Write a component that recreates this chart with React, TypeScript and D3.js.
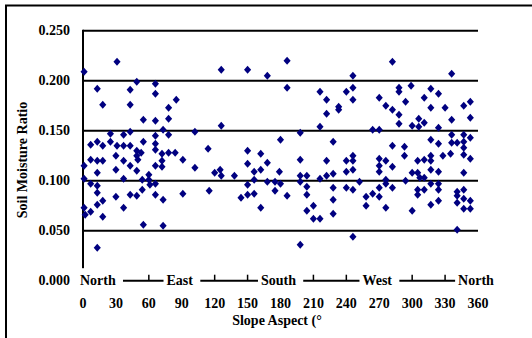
import { useEffect, useRef } from 'react';

import * as d3 from 'd3';

const width = 532;
const height = 338;
const [mt, mr, mb, ml] = [31, 54, 57, 83];
const font = "'Times New Roman', 'Liberation Serif', serif";

// slope aspect (degrees) for each sample
const aspectDeg = [
    1, 31, 13, 49, 66, 43, 66, 18, 43, 85, 78, 55, 66, 78, 73, 43, 78, 37, 25, 7,
    13, 18, 25, 31, 37, 43, 55, 66, 66, 49, 53, 66, 72, 78, 84, 7, 13, 18, 1, 30,
    37, 49, 50, 43, 30, 49, 66, 72, 72, 13, 1, 37, 54, 60, 60, 61, 7, 13, 66, 54,
    13, 43, 49, 66, 30, 73, 18, 13, 1, 2, 7, 37, 18, 55, 73, 13,
    126, 150, 168, 102, 126, 114, 91, 102, 120, 125, 126, 138, 150, 162, 150, 168, 156, 162, 179, 156,
    168, 175, 150, 91, 115, 144, 150, 156, 175, 162, 180, 180,
    186, 246, 186, 216, 240, 246, 222, 246, 270, 233, 233, 222, 216, 198, 228, 264, 270, 198, 222, 198,
    204, 198, 216, 222, 228, 204, 204, 186, 228, 240, 240, 246, 246, 246, 240, 246, 252, 228, 210, 204,
    210, 216, 228, 258, 258, 264, 198, 246,
    282, 336, 288, 288, 299, 317, 324, 276, 282, 294, 311, 317, 330, 347, 353, 288, 288, 300, 306, 306,
    311, 324, 336, 353, 347, 347, 317, 324, 336, 336, 341, 353, 282, 293, 293, 270, 276, 270, 282, 270,
    276, 276, 270, 282, 270, 294, 300, 305, 311, 317, 317, 317, 324, 305, 307, 311, 317, 324, 305, 305,
    311, 324, 324, 317, 328, 335, 347, 347, 353, 347, 341, 341, 347, 341, 347, 353, 347, 353, 276, 300,
    341
];

// soil moisture ratio, same order as aspectDeg
const moistureRatio = [
    0.209, 0.219, 0.192, 0.199, 0.197, 0.191, 0.187, 0.176, 0.176, 0.181, 0.173, 0.161, 0.16, 0.162, 0.151, 0.149, 0.146, 0.146, 0.147, 0.136,
    0.139, 0.135, 0.139, 0.135, 0.135, 0.135, 0.139, 0.145, 0.137, 0.13, 0.128, 0.131, 0.127, 0.128, 0.128, 0.121, 0.12, 0.12, 0.115, 0.125,
    0.12, 0.125, 0.121, 0.115, 0.111, 0.11, 0.115, 0.12, 0.114, 0.108, 0.102, 0.102, 0.101, 0.106, 0.101, 0.096, 0.097, 0.095, 0.097, 0.091,
    0.088, 0.086, 0.085, 0.086, 0.084, 0.081, 0.08, 0.076, 0.073, 0.066, 0.069, 0.073, 0.064, 0.056, 0.055, 0.033,
    0.211, 0.211, 0.205, 0.149, 0.155, 0.132, 0.121, 0.113, 0.108, 0.111, 0.105, 0.105, 0.13, 0.127, 0.117, 0.118, 0.109, 0.111, 0.109, 0.101,
    0.099, 0.099, 0.096, 0.087, 0.09, 0.083, 0.086, 0.087, 0.09, 0.073, 0.097, 0.141,
    0.22, 0.205, 0.193, 0.189, 0.189, 0.193, 0.181, 0.181, 0.183, 0.174, 0.171, 0.167, 0.154, 0.148, 0.139, 0.151, 0.151, 0.121, 0.12, 0.105,
    0.105, 0.099, 0.102, 0.105, 0.107, 0.094, 0.086, 0.085, 0.093, 0.12, 0.109, 0.125, 0.12, 0.111, 0.093, 0.091, 0.099, 0.081, 0.075, 0.07,
    0.062, 0.062, 0.067, 0.084, 0.075, 0.087, 0.036, 0.044,
    0.219, 0.207, 0.193, 0.189, 0.195, 0.192, 0.187, 0.175, 0.171, 0.179, 0.183, 0.173, 0.173, 0.175, 0.179, 0.166, 0.157, 0.155, 0.162, 0.154,
    0.158, 0.153, 0.161, 0.163, 0.146, 0.139, 0.141, 0.137, 0.146, 0.138, 0.138, 0.143, 0.135, 0.134, 0.125, 0.122, 0.12, 0.115, 0.114, 0.109,
    0.101, 0.097, 0.093, 0.093, 0.084, 0.1, 0.108, 0.12, 0.121, 0.125, 0.12, 0.111, 0.109, 0.108, 0.103, 0.103, 0.097, 0.097, 0.091, 0.086,
    0.091, 0.091, 0.08, 0.076, 0.125, 0.127, 0.133, 0.126, 0.122, 0.108, 0.089, 0.085, 0.091, 0.078, 0.082, 0.08, 0.072, 0.072, 0.073, 0.07,
    0.051
];

const yTicks = [0, 0.05, 0.1, 0.15, 0.2, 0.25];
const xTicks = [0, 30, 60, 90, 120, 150, 180, 210, 240, 270, 300, 330, 360];
const directionNames = ['North', 'East', 'South', 'West', 'North'];
const directionDeg = [0, 90, 180, 270, 360];

export default function App() {
    const svgRef = useRef<SVGSVGElement>(null);

    useEffect(() => {
        const svg = d3.select(svgRef.current);
        svg.selectAll('*').remove();

        const x = d3.scaleLinear().domain([0, 360]).range([ml, width - mr]);
        const y = d3.scaleLinear().domain([0, 0.25]).range([height - mb - 0.3, mt - 0.3]);
        const y0 = y(0);

        // outer chart border (runs off the right and bottom edges)
        svg.append('rect')
            .attr('x', 6).attr('y', 5.5)
            .attr('width', 600).attr('height', 400)
            .attr('fill', 'none').attr('stroke', '#000').attr('stroke-width', 2);

        // gridlines
        svg.append('g')
            .selectAll('line')
            .data(yTicks.filter((d) => d > 0))
            .join('line')
            .attr('x1', x(0)).attr('x2', x(360))
            .attr('y1', (d) => y(d)).attr('y2', (d) => y(d))
            .attr('stroke', '#000').attr('stroke-width', 2);

        // axes
        svg.append('line')
            .attr('x1', x(0)).attr('x2', x(0)).attr('y1', y(0.25) - 1).attr('y2', y0)
            .attr('stroke', '#000').attr('stroke-width', 2);
        svg.append('line')
            .attr('x1', x(0)).attr('x2', x(360)).attr('y1', y0).attr('y2', y0)
            .attr('stroke', '#000').attr('stroke-width', 2);
        svg.append('g')
            .selectAll('line')
            .data(xTicks)
            .join('line')
            .attr('x1', (d) => x(d)).attr('x2', (d) => x(d))
            .attr('y1', y0).attr('y2', y0 - 6)
            .attr('stroke', '#000').attr('stroke-width', 1.5);

        // direction labels sit on the axis with a white box behind them
        directionNames.forEach((name, i) => {
            const g = svg.append('g');
            const box = g.append('rect').attr('fill', '#fff');
            const first = i === 0;
            const t = g.append('text')
                .attr('x', first ? x(directionDeg[i]) - 3 : x(directionDeg[i]) - 2)
                .attr('y', y0 + 4.5)
                .attr('text-anchor', first ? 'start' : 'middle')
                .attr('font-family', font).attr('font-weight', 'bold').attr('font-size', 14)
                .text(name);
            const b = (t.node() as SVGTextElement).getBBox();
            box.attr('x', b.x - 3).attr('y', y0 - 12.5).attr('width', b.width + 10).attr('height', 24);
        });

        // y tick labels
        svg.append('g')
            .selectAll('text')
            .data(yTicks)
            .join('text')
            .attr('x', 70).attr('y', (d) => y(d)).attr('dy', '0.34em')
            .attr('text-anchor', 'end')
            .attr('font-family', font).attr('font-weight', 'bold').attr('font-size', 14)
            .text((d) => d3.format('.3f')(d));

        // x tick numbers
        svg.append('g')
            .selectAll('text')
            .data(xTicks)
            .join('text')
            .attr('x', (d) => x(d)).attr('y', y0 + 27)
            .attr('text-anchor', 'middle')
            .attr('font-family', font).attr('font-weight', 'bold').attr('font-size', 14)
            .text((d) => d);

        // axis titles
        svg.append('text')
            .attr('x', 277).attr('y', 325)
            .attr('text-anchor', 'middle')
            .attr('font-family', font).attr('font-weight', 'bold').attr('font-size', 14)
            .text('Slope Aspect (°');
        svg.append('text')
            .attr('transform', 'translate(27, 160) rotate(-90)')
            .attr('text-anchor', 'middle')
            .attr('font-family', font).attr('font-weight', 'bold').attr('font-size', 14)
            .text('Soil Moisture Ratio');

        // points: slightly tall diamonds like the original markers
        const diamond = d3.symbol().type(d3.symbolDiamond2).size(36);
        svg.append('g')
            .selectAll('path')
            .data(aspectDeg.map((a, i) => [a, moistureRatio[i]]))
            .join('path')
            .attr('transform', (d) => `translate(${x(d[0])}, ${y(d[1])}) scale(0.95, 1.08)`)
            .attr('d', diamond)
            .attr('fill', '#000080');
    }, []);

    return (
        <svg
            ref={svgRef}
            width={width}
            height={height}
            style={{ position: 'absolute', left: 0, top: 0, display: 'block', background: '#fff' }}
        />
    );
}
